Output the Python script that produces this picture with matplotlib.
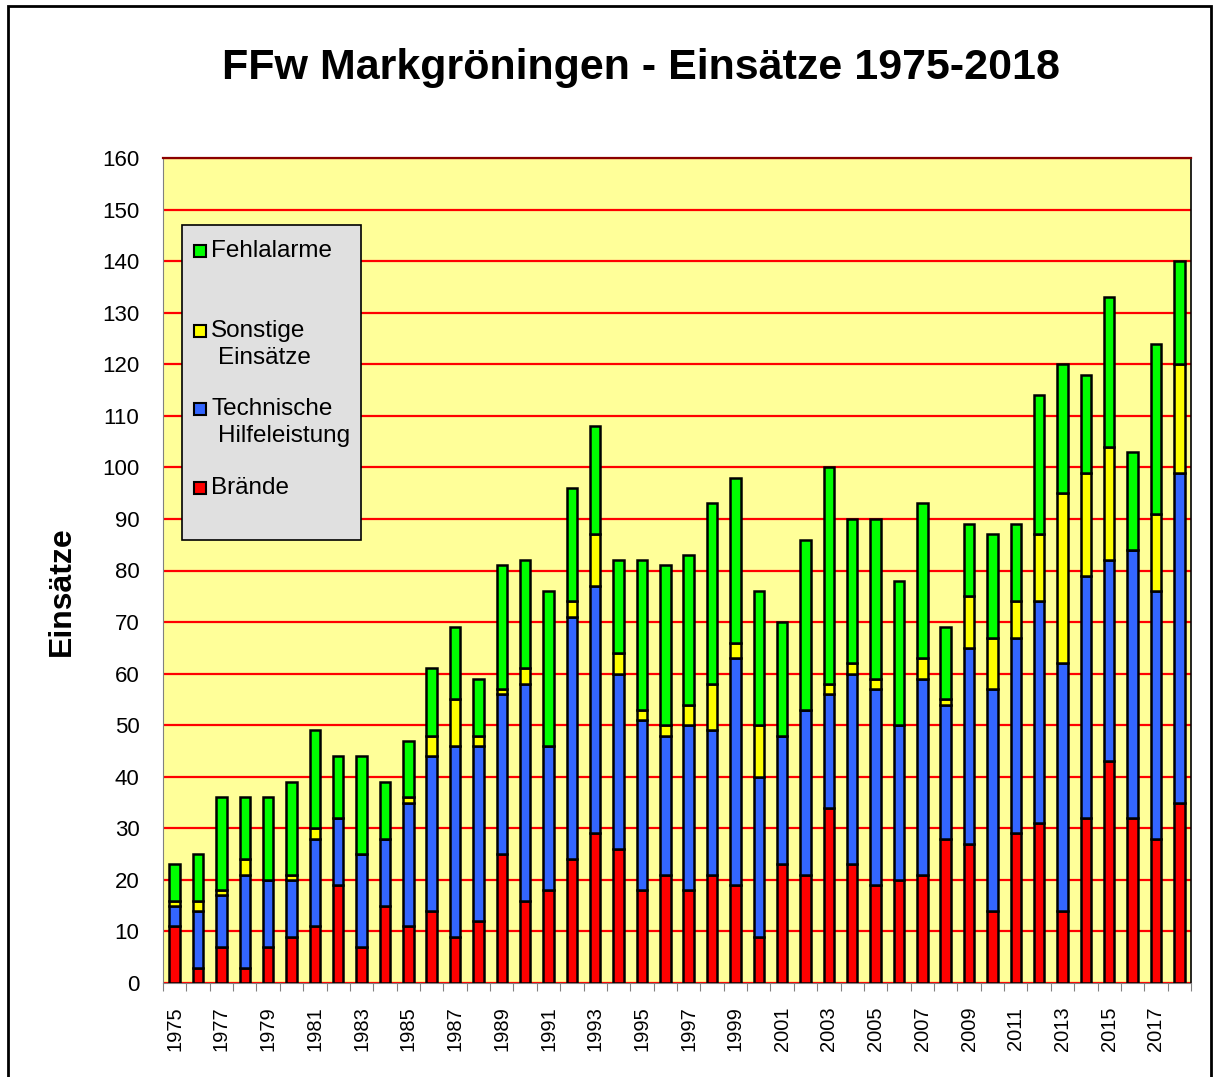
import matplotlib.pyplot as plt
import matplotlib.patches as mpatches
import numpy as np

years = list(range(1975, 2019))
# Brände, Technische Hilfeleistung, Sonstige Einsätze, Fehlalarme
braende = [11, 3, 7, 3, 7, 9, 11, 19, 7, 15, 11, 14, 9, 12, 25, 16, 18, 24, 29, 26, 18, 21,
           18, 21, 19, 9, 23, 21, 34, 23, 19, 20, 21, 28, 27, 14, 29, 31, 14, 32, 43, 32, 28, 35]
technisch = [4, 11, 10, 18, 13, 11, 17, 13, 18, 13, 24, 30, 37, 34, 31, 42, 28, 47, 48, 34, 33, 27,
             32, 28, 44, 31, 25, 32, 22, 37, 38, 30, 38, 26, 38, 43, 38, 43, 48, 47, 39, 52, 48, 64]
sonstige = [1, 2, 1, 3, 0, 1, 2, 0, 0, 0, 1, 4, 9, 2, 1, 3, 0, 3, 10, 4, 2, 2,
            4, 9, 3, 10, 0, 0, 2, 2, 2, 0, 4, 1, 10, 10, 7, 13, 33, 20, 22, 0, 15, 21]
fehlalarme = [7, 9, 18, 12, 16, 18, 19, 12, 19, 11, 11, 13, 14, 11, 24, 21, 30, 22, 21, 18, 29, 31,
              29, 35, 32, 26, 22, 33, 42, 28, 31, 28, 30, 14, 14, 20, 15, 27, 25, 19, 29, 19, 33, 20]

series = [braende, technisch, sonstige, fehlalarme]
colors = ['#FF0000', '#3366FF', '#FFFF00', '#00FF00']
labels = ['Brände', 'Technische\nHilfeleistung', 'Sonstige\nEinsätze', 'Fehlalarme']

W, H = 1214, 1077
fig = plt.figure(figsize=(W / 100, H / 100), dpi=100)
plt.rcParams['font.family'] = ['Liberation Sans', 'DejaVu Sans']

ax = fig.add_axes([163 / W, 1 - 983 / H, 1028 / W, 825 / H])
ax.set_facecolor('#FFFF99')

x = np.arange(len(years))
bottom = np.zeros(len(years))
for vals, col in zip(series, colors):
    ax.bar(x, vals, 0.45, bottom=bottom, color=col, edgecolor='black', linewidth=1.8, zorder=3)
    bottom += np.array(vals)

ax.set_xlim(-0.5, len(years) - 0.5)
ax.set_ylim(0, 160)
ax.set_yticks(range(0, 161, 10))
ax.yaxis.grid(True, color='#FF0000', linewidth=1.6, zorder=1)
ax.set_axisbelow(True)
ax.tick_params(axis='y', length=0, pad=17, labelsize=16)

ax.set_xticks(np.arange(-0.5, len(years), 1.0))
ax.set_xticklabels([])
ax.set_xticks(x[::2], minor=True)
ax.set_xticklabels([str(y) for y in years[::2]], minor=True, rotation=90, fontsize=14.5)
ax.tick_params(axis='x', which='major', length=6, color='#808080', direction='out')
ax.tick_params(axis='x', which='minor', length=0, pad=17)

ax.spines['left'].set_color('#808080')
ax.spines['bottom'].set_color('#808080')
ax.spines['top'].set_color('#8B0000')
ax.spines['top'].set_linewidth(1.6)
ax.spines['right'].set_color('black')
ax.spines['right'].set_linewidth(1.2)


def fx(px):
    return px / W


def fy(py):
    return 1 - py / H


fig.text(fx(62), fy(591), 'Einsätze', rotation=90, ha='center', va='center',
         fontsize=23, fontweight='bold')

fig.text(fx(641.5), fy(68), 'FFw Markgröningen - Einsätze 1975-2018',
         ha='center', va='center', fontsize=31, fontweight='bold')

# frame around the whole chart
fig.patches.append(mpatches.Rectangle((8 / W, -0.01), 1203 / W, 1.01 - 6 / H,
                                      transform=fig.transFigure, fill=False,
                                      edgecolor='black', linewidth=2))

# legend box
fig.patches.append(mpatches.Rectangle((fx(182), fy(540)), (361 - 182) / W, (540 - 225) / H,
                                      transform=fig.transFigure, facecolor='#E0E0E0',
                                      edgecolor='black', linewidth=1.2, zorder=5))
leg_rows = [(251, 3), (331, 2), (409, 1), (488, 0)]
for py, i in leg_rows:
    fig.patches.append(mpatches.Rectangle((fx(194), fy(py + 6)), 12 / W, 12 / H,
                                          transform=fig.transFigure, facecolor=colors[i],
                                          edgecolor='black', linewidth=1.5, zorder=6))
    lines = labels[i].split('\n')
    fig.text(fx(211), fy(py), lines[0], ha='left', va='center', fontsize=17.5, zorder=7)
    if len(lines) > 1:
        fig.text(fx(218), fy(py + 27), lines[1], ha='left', va='center', fontsize=17.5, zorder=7)

fig.savefig('out.png', dpi=100)
